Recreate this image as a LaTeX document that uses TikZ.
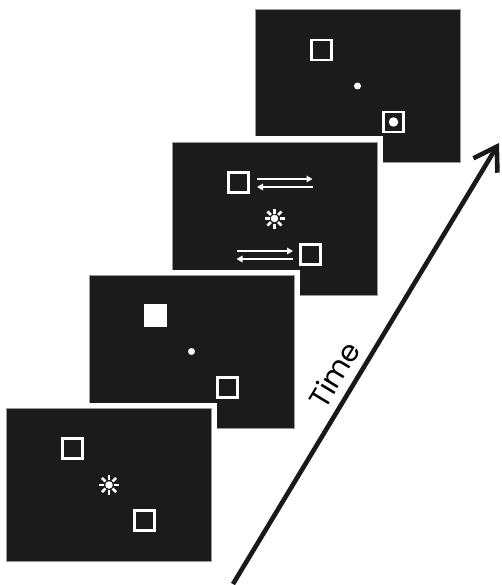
\documentclass[tikz,border=0pt]{standalone}
\usepackage{fontspec}
\newfontfamily\timefont{Poppins}
\usetikzlibrary{arrows.meta}
\definecolor{panelbg}{HTML}{1B1B1B}
\definecolor{panelrim}{HTML}{9A9A9A}
\begin{document}
\begin{tikzpicture}[x=1pt,y=-1pt]
\tikzset{
 panel/.style={rectangle, fill=panelbg, draw=panelrim, line width=0.8pt, minimum width=205pt, minimum height=153pt, inner sep=0pt, preaction={draw=white, line width=11pt}},
 framebox/.style={rectangle, draw=white, line width=2.8pt, minimum size=20pt, inner sep=0pt},
 fullbox/.style={rectangle, fill=white, minimum size=23pt, inner sep=0pt},
 fixdot/.style={circle, fill=white, minimum size=7pt, inner sep=0pt},
 targetdot/.style={circle, fill=white, minimum size=9.5pt, inner sep=0pt},
 starcore/.style={circle, fill=white, minimum size=7.5pt, inner sep=0pt},
 ray/.style={draw=white, line width=2.6pt},
 cuearrow/.style={draw=white, line width=1.8pt, -{Triangle[length=6pt,width=6.5pt]}},
 timearrow/.style={draw=black!90, line width=4.6pt, -{Straight Barb[length=22pt,width=28pt]}}
}
\useasboundingbox (0,0) rectangle (501,585);
% panel 4 (last frame)
\node[panel] (p4) at (357.5,86) {};
\node[framebox] (p4a) at ([shift={(-36,-36)}]p4.center) {};
\node[fixdot] (p4f) at (p4.center) {};
\node[framebox] (p4b) at ([shift={(36,36)}]p4.center) {};
\node[targetdot] (p4t) at (p4b.center) {};
% panel 3
\node[panel] (p3) at (274.5,218.5) {};
\node[framebox] (p3a) at ([shift={(-36,-36)}]p3.center) {};
\node[framebox] (p3b) at ([shift={(36,36)}]p3.center) {};
\node[starcore] (p3s) at (p3.center) {};
\foreach \a in {0,45,...,315} \draw[ray] (p3s.center) ++(\a:5) -- ++(\a:5);
\coordinate (u1) at ([shift={(-17.5,-39.5)}]p3.center);
\coordinate (u2) at ([shift={(38,-39.5)}]p3.center);
\coordinate (u3) at ([shift={(38,-31.5)}]p3.center);
\coordinate (u4) at ([shift={(-17.5,-31.5)}]p3.center);
\draw[cuearrow] (u1) -- (u2);
\draw[cuearrow] (u3) -- (u4);
\coordinate (l1) at ([shift={(-38,32.5)}]p3.center);
\coordinate (l2) at ([shift={(18.5,32.5)}]p3.center);
\coordinate (l3) at ([shift={(18.5,40.5)}]p3.center);
\coordinate (l4) at ([shift={(-38,40.5)}]p3.center);
\draw[cuearrow] (l1) -- (l2);
\draw[cuearrow] (l3) -- (l4);
% panel 2
\node[panel] (p2) at (191.5,351.5) {};
\node[fullbox] (p2a) at ([shift={(-36,-36)}]p2.center) {};
\node[fixdot] (p2f) at (p2.center) {};
\node[framebox] (p2b) at ([shift={(36,36)}]p2.center) {};
% panel 1 (first frame)
\node[panel] (p1) at (109,485) {};
\node[framebox] (p1a) at ([shift={(-36.5,-36.5)}]p1.center) {};
\node[framebox] (p1b) at ([shift={(35.5,35.5)}]p1.center) {};
\node[starcore] (p1s) at (p1.center) {};
\foreach \a in {0,45,...,315} \draw[ray] (p1s.center) ++(\a:5) -- ++(\a:5);
% time arrow
\coordinate (tstart) at (233,584);
\coordinate (tend) at (499,143);
\draw[timearrow] (tstart) -- (tend) node[pos=0.45, sloped, above=5pt, font=\timefont\fontsize{29}{29}\selectfont] (tlabel) {Time};
\end{tikzpicture}
\end{document}
